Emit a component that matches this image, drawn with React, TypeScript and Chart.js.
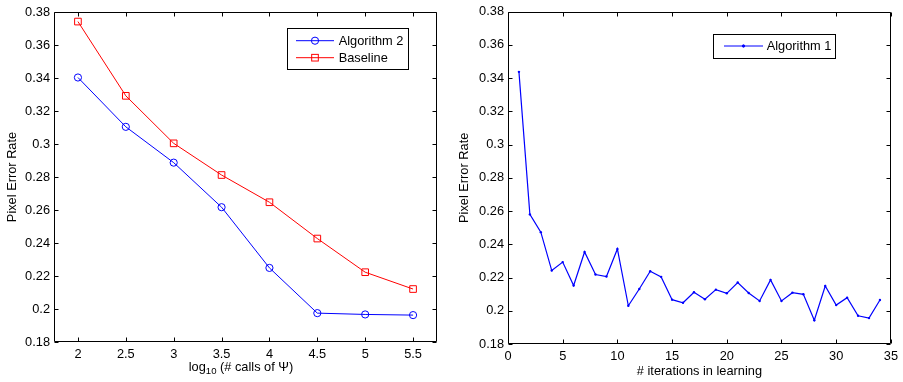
import React, { useEffect, useRef } from "react";
import { Chart, registerables } from "chart.js";

Chart.register(...registerables);

// ---------- data ----------
const callsLog10 = [2, 2.5, 3, 3.5, 4, 4.5, 5, 5.5];
const algorithm2 = [0.3403, 0.3104, 0.2887, 0.2617, 0.2249, 0.1975, 0.1967, 0.1963];
const baseline = [0.3742, 0.3292, 0.3004, 0.2812, 0.2647, 0.2427, 0.2223, 0.2121];
const leftXTicks = [2, 2.5, 3, 3.5, 4, 4.5, 5, 5.5];

const iterations = [
  1, 2, 3, 4, 5, 6, 7, 8, 9, 10, 11, 12, 13, 14, 15, 16, 17,
  18, 19, 20, 21, 22, 23, 24, 25, 26, 27, 28, 29, 30, 31, 32, 33, 34,
];
const algorithm1 = [
  0.3438, 0.258, 0.2473, 0.2242, 0.2293, 0.2152, 0.2354, 0.2218, 0.2206, 0.2372,
  0.203, 0.2131, 0.2238, 0.2204, 0.2067, 0.2048, 0.2111, 0.2069, 0.2127, 0.2105,
  0.217, 0.2107, 0.2059, 0.2186, 0.2059, 0.2109, 0.2099, 0.1943, 0.2149, 0.2034,
  0.2079, 0.197, 0.1956, 0.2065,
];
const rightXTicks = [0, 5, 10, 15, 20, 25, 30, 35];
const yTicks = [0.18, 0.2, 0.22, 0.24, 0.26, 0.28, 0.3, 0.32, 0.34, 0.36, 0.38];

const yTitle = "Pixel Error Rate";
const leftXTitleParts = ["log", "10", " (# calls of Ψ)"];
const rightXTitle = "# iterations in learning";

const FONT = "'Liberation Sans', Arial, Helvetica, sans-serif";
const FS = 12.8;
const BLUE = "#0000ff";
const RED = "#ff0000";

const fmt = (v: number) => String(Number(Number(v).toFixed(3)));

// frame + inward ticks + custom legend + optional composite x title
const decorPlugin = {
  id: "decor",
  afterDatasetsDraw(chart: any, _args: any, opts: any) {
    const ctx = chart.ctx;
    const a = chart.chartArea;
    const xs = chart.scales.x;
    const ys = chart.scales.y;
    ctx.save();
    ctx.strokeStyle = "#000";
    ctx.lineWidth = 1;
    const L = Math.round(a.left) + 0.5;
    const R = Math.round(a.right) - 0.5;
    const T = Math.round(a.top) + 0.5;
    const B = Math.round(a.bottom) - 0.5;
    ctx.beginPath();
    ctx.rect(L, T, R - L, B - T);
    ctx.stroke();
    const tl = 4;
    ctx.beginPath();
    for (const t of xs.ticks) {
      const px = Math.round(xs.getPixelForValue(t.value)) + 0.5;
      ctx.moveTo(px, B);
      ctx.lineTo(px, B - tl);
      ctx.moveTo(px, T);
      ctx.lineTo(px, T + tl);
    }
    for (const t of ys.ticks) {
      const py = Math.round(ys.getPixelForValue(t.value)) + 0.5;
      ctx.moveTo(L, py);
      ctx.lineTo(L + tl, py);
      ctx.moveTo(R, py);
      ctx.lineTo(R - tl, py);
    }
    ctx.stroke();

    // legend
    const lg = opts.legend;
    if (lg) {
      ctx.fillStyle = "#fff";
      ctx.fillRect(lg.x, lg.y, lg.w, lg.h);
      ctx.strokeStyle = "#000";
      ctx.lineWidth = 1;
      ctx.strokeRect(lg.x + 0.5, lg.y + 0.5, lg.w - 1, lg.h - 1);
      chart.data.datasets.forEach((ds: any, i: number) => {
        const ry = lg.rows[i];
        ctx.strokeStyle = ds.borderColor;
        ctx.lineWidth = 1;
        ctx.beginPath();
        ctx.moveTo(lg.lineX0, ry);
        ctx.lineTo(lg.lineX1, ry);
        ctx.stroke();
        const mx = (lg.lineX0 + lg.lineX1) / 2;
        const r = ds.pointRadius;
        if (ds.pointStyle === "circle") {
          ctx.beginPath();
          ctx.arc(mx, ry, r, 0, Math.PI * 2);
          if (ds.pointBackgroundColor && ds.pointBackgroundColor !== "transparent") {
            ctx.fillStyle = ds.pointBackgroundColor;
            ctx.fill();
          }
          ctx.stroke();
        } else if (ds.pointStyle === "rect") {
          const s = r * Math.SQRT1_2;
          ctx.strokeRect(mx - s, ry - s, 2 * s, 2 * s);
        }
        ctx.fillStyle = "#000";
        ctx.font = `${FS}px ${FONT}`;
        ctx.textBaseline = "middle";
        ctx.textAlign = "left";
        ctx.fillText(ds.label, lg.textX, ry + 0.5);
      });
    }

    // composite x title with subscript
    const xt = opts.xTitleParts;
    if (xt) {
      ctx.fillStyle = "#000";
      ctx.textBaseline = "middle";
      ctx.textAlign = "left";
      const big = `${FS}px ${FONT}`;
      const small = `${FS * 0.75}px ${FONT}`;
      ctx.font = big;
      const w0 = ctx.measureText(xt[0]).width;
      const w2 = ctx.measureText(xt[2]).width;
      ctx.font = small;
      const w1 = ctx.measureText(xt[1]).width;
      const total = w0 + w1 + w2;
      let x = opts.xTitleCenter - total / 2;
      const y = opts.xTitleY;
      ctx.font = big;
      ctx.fillText(xt[0], x, y);
      x += w0;
      ctx.font = small;
      ctx.fillText(xt[1], x, y + 4);
      x += w1;
      ctx.font = big;
      ctx.fillText(xt[2], x, y);
    }
    ctx.restore();
  },
};

function makeScales(opt: {
  xMin: number; xMax: number; xTicks: number[]; yWidth: number; xHeight: number;
  xTitle?: string; xTitlePad?: number; yTitlePad: number;
}) {
  return {
    x: {
      type: "linear",
      min: opt.xMin,
      max: opt.xMax,
      grid: { display: false, drawTicks: false },
      border: { display: false },
      afterBuildTicks: (s: any) => {
        s.ticks = opt.xTicks.map((v) => ({ value: v }));
      },
      afterFit: (s: any) => {
        s.height = opt.xHeight;
      },
      ticks: {
        color: "#000",
        font: { family: FONT, size: FS },
        padding: 5,
        maxRotation: 0,
        autoSkip: false,
        callback: (v: any) => fmt(v),
      },
      title: opt.xTitle
        ? {
            display: true,
            text: opt.xTitle,
            color: "#000",
            font: { family: FONT, size: FS },
            padding: { top: 0, bottom: opt.xTitlePad ?? 2 },
          }
        : { display: false },
    },
    y: {
      type: "linear",
      min: 0.18,
      max: 0.38,
      grid: { display: false, drawTicks: false },
      border: { display: false },
      afterBuildTicks: (s: any) => {
        s.ticks = yTicks.map((v) => ({ value: v }));
      },
      afterFit: (s: any) => {
        s.width = opt.yWidth;
      },
      ticks: {
        color: "#000",
        font: { family: FONT, size: FS },
        padding: 4,
        autoSkip: false,
        callback: (v: any) => fmt(v),
      },
      title: {
        display: true,
        text: yTitle,
        color: "#000",
        font: { family: FONT, size: FS },
        padding: { top: opt.yTitlePad, bottom: 0 },
      },
    },
  };
}

function LeftChart() {
  const ref = useRef<HTMLCanvasElement>(null);
  useEffect(() => {
    const chart = new Chart(ref.current as HTMLCanvasElement, {
      type: "line",
      data: {
        datasets: [
          {
            label: "Algorithm 2",
            data: callsLog10.map((x, i) => ({ x, y: algorithm2[i] })),
            borderColor: BLUE,
            borderWidth: 1,
            pointStyle: "circle",
            pointRadius: 3.6,
            pointBorderColor: BLUE,
            pointBackgroundColor: "transparent",
            pointBorderWidth: 1,
            fill: false,
            tension: 0,
          },
          {
            label: "Baseline",
            data: callsLog10.map((x, i) => ({ x, y: baseline[i] })),
            borderColor: RED,
            borderWidth: 1,
            pointStyle: "rect",
            pointRadius: 4.7,
            pointBorderColor: RED,
            pointBackgroundColor: "transparent",
            pointBorderWidth: 1,
            fill: false,
            tension: 0,
          },
        ],
      },
      options: {
        responsive: false,
        maintainAspectRatio: false,
        animation: false,
        devicePixelRatio: 1,
        layout: { padding: { left: 0, right: 13, top: 12, bottom: 0 } },
        plugins: {
          legend: { display: false },
          tooltip: { enabled: false },
          decor: {
            legend: {
              x: 287, y: 28, w: 122, h: 42,
              rows: [40.7, 57.7], lineX0: 296, lineX1: 334, textX: 338.7,
            },
            xTitleParts: leftXTitleParts,
            xTitleCenter: 241,
            xTitleY: 367,
          },
        } as any,
        scales: makeScales({
          xMin: 1.75, xMax: 5.75, xTicks: leftXTicks, yWidth: 54, xHeight: 40, yTitlePad: 4.5,
        }) as any,
      },
      plugins: [decorPlugin],
    } as any);
    return () => chart.destroy();
  }, []);
  return <canvas ref={ref} width={450} height={382} style={{ width: 450, height: 382, display: "block" }} />;
}

function RightChart() {
  const ref = useRef<HTMLCanvasElement>(null);
  useEffect(() => {
    const chart = new Chart(ref.current as HTMLCanvasElement, {
      type: "line",
      data: {
        datasets: [
          {
            label: "Algorithm 1",
            data: iterations.map((x, i) => ({ x, y: algorithm1[i] })),
            borderColor: BLUE,
            borderWidth: 1.2,
            pointStyle: "circle",
            pointRadius: 1.2,
            pointBorderColor: BLUE,
            pointBackgroundColor: BLUE,
            pointBorderWidth: 0,
            fill: false,
            tension: 0,
          },
        ],
      },
      options: {
        responsive: false,
        maintainAspectRatio: false,
        animation: false,
        devicePixelRatio: 1,
        layout: { padding: { left: 0, right: 11, top: 7, bottom: 0 } },
        plugins: {
          legend: { display: false },
          tooltip: { enabled: false },
          decor: {
            legend: {
              x: 263, y: 34, w: 123, h: 25,
              rows: [46], lineX0: 274, lineX1: 313, textX: 316.7,
            },
          },
        } as any,
        scales: makeScales({
          xMin: 0, xMax: 35, xTicks: rightXTicks, yWidth: 58, xHeight: 38,
          xTitle: rightXTitle, xTitlePad: 2.5, yTitlePad: 7,
        }) as any,
      },
      plugins: [decorPlugin],
    } as any);
    return () => chart.destroy();
  }, []);
  return <canvas ref={ref} width={453} height={382} style={{ width: 453, height: 382, display: "block" }} />;
}

export default function App() {
  return (
    <div
      style={{
        position: "fixed",
        left: 0,
        top: 0,
        width: 903,
        height: 382,
        background: "#fff",
        overflow: "hidden",
      }}
    >
      <div style={{ position: "absolute", left: 0, top: 0, width: 450, height: 382 }}>
        <LeftChart />
      </div>
      <div style={{ position: "absolute", left: 450, top: 0, width: 453, height: 382 }}>
        <RightChart />
      </div>
    </div>
  );
}
